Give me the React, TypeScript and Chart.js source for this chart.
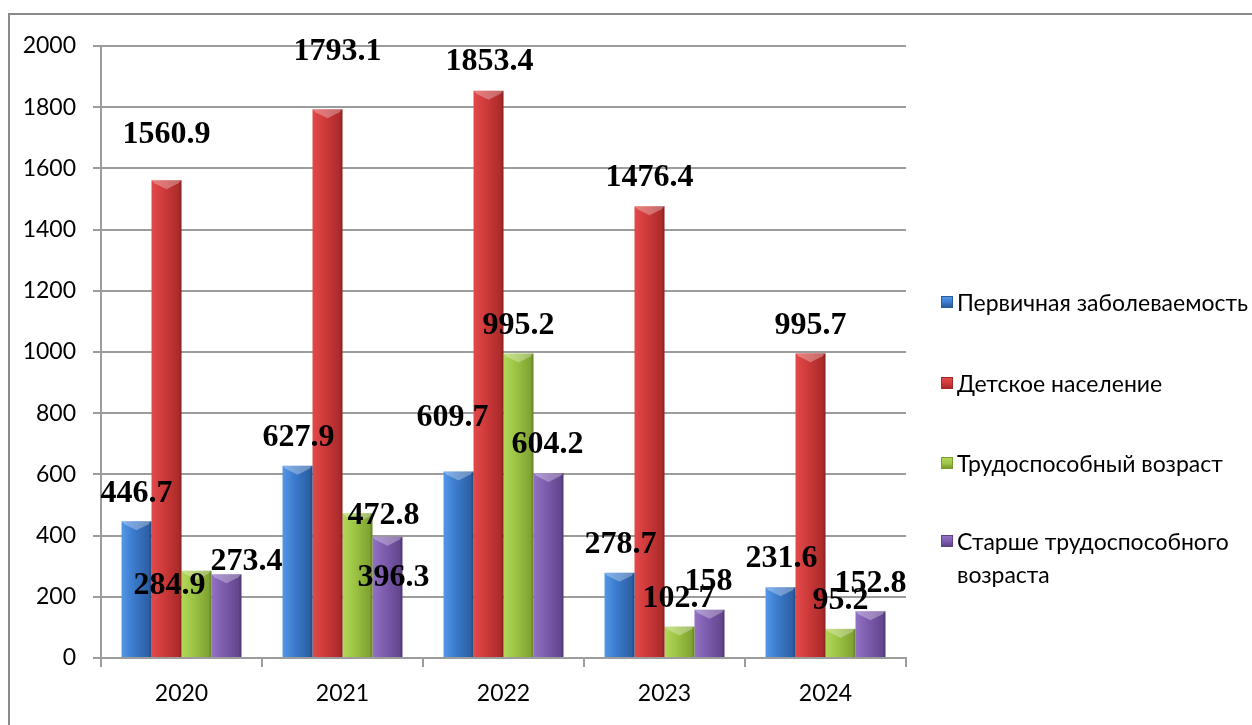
import React, { useEffect, useRef } from 'react';
import { Chart, registerables } from 'chart.js';

Chart.register(...registerables);

// ---------- data ----------
const categories = ['2020', '2021', '2022', '2023', '2024'];
const seriesNames = [
  'Первичная заболеваемость',
  'Детское население',
  'Трудоспособный возраст',
  'Старше трудоспособного возраста',
];
const primaryIncidence = [446.7, 627.9, 609.7, 278.7, 231.6];
const childPopulation = [1560.9, 1793.1, 1853.4, 1476.4, 995.7];
const workingAge = [284.9, 472.8, 995.2, 102.7, 95.2];
const aboveWorkingAge = [273.4, 396.3, 604.2, 158, 152.8];
const yTickValues = [0, 200, 400, 600, 800, 1000, 1200, 1400, 1600, 1800, 2000];

// ---------- styles ----------
const palettes = [
  { light: '#5497e6', mid: '#3b7acc', dark: '#2a5a9c' },
  { light: '#e24a4a', mid: '#cf3a3a', dark: '#a52828' },
  { light: '#b2d85a', mid: '#9dc444', dark: '#7a9c2e' },
  { light: '#9272c2', mid: '#7d5cae', dark: '#5e4288' },
];
// label nudges in px relative to the default spot above each bar [series][category]
const labelNudges: [number, number][][] = [
  [[0, 0], [1, 0], [-6, -26], [1, 0], [1, 0]],
  [[0, -18], [10, -30], [1, -1], [0, 0], [0, 0]],
  [[-27, 43], [26, 30], [0, 0], [-1, 0], [0, 0]],
  [[20, 15], [6, 69], [-1, 0], [-1, 0], [0, 0]],
];
const CATEGORY_PCT = 0.745;
const GRID = '#9c9c9c';
const FRAME = '#8a8a8a';
const SANS = 'Lato, "Open Sans", "DejaVu Sans", sans-serif';

const seriesData = [primaryIncidence, childPopulation, workingAge, aboveWorkingAge];

const framePlugin = {
  id: 'frame',
  beforeDraw(chart: any) {
    const ctx = chart.ctx;
    ctx.save();
    ctx.fillStyle = '#ffffff';
    ctx.fillRect(0, 0, chart.width, chart.height);
    ctx.strokeStyle = FRAME;
    ctx.lineWidth = 2;
    ctx.beginPath();
    ctx.moveTo(9, chart.height);
    ctx.lineTo(9, 14);
    ctx.lineTo(chart.width, 14);
    ctx.stroke();
    ctx.restore();
  },
};

const bevelPlugin = {
  id: 'bevel',
  afterDatasetsDraw(chart: any) {
    const ctx = chart.ctx;
    ctx.save();
    chart.data.datasets.forEach((_ds: any, di: number) => {
      const meta = chart.getDatasetMeta(di);
      meta.data.forEach((el: any) => {
        const { x, y, width } = el.getProps(['x', 'y', 'width'], true);
        const l = x - width / 2;
        const r = x + width / 2;
        ctx.fillStyle = 'rgba(255,255,255,0.3)';
        ctx.beginPath();
        ctx.moveTo(l, y);
        ctx.lineTo(r, y);
        ctx.lineTo(r - 3, y + 3);
        ctx.lineTo(x, y + 9);
        ctx.lineTo(l + 3, y + 3);
        ctx.closePath();
        ctx.fill();
        ctx.fillStyle = 'rgba(0,0,0,0.12)';
        ctx.fillRect(r - 2, y, 2, el.base - y);
      });
    });
    ctx.restore();
  },
};

const labelPlugin = {
  id: 'barLabels',
  afterDatasetsDraw(chart: any) {
    const ctx = chart.ctx;
    ctx.save();
    ctx.font = 'bold 32px "Liberation Serif", "Times New Roman", serif';
    ctx.fillStyle = '#000000';
    ctx.textAlign = 'center';
    ctx.textBaseline = 'middle';
    chart.data.datasets.forEach((ds: any, di: number) => {
      const meta = chart.getDatasetMeta(di);
      meta.data.forEach((el: any, i: number) => {
        const [dx, dy] = labelNudges[di][i];
        ctx.fillText(String(ds.data[i]), el.x + dx, el.y - 28 + dy);
      });
    });
    ctx.restore();
  },
};

function makeGradient(ctx: any, di: number) {
  const pal = palettes[di];
  const chart = ctx.chart;
  const xs = chart.scales && chart.scales.x;
  if (!xs || ctx.type !== 'data' || !xs.width) return pal.mid;
  const center = xs.getPixelForValue(ctx.dataIndex);
  const catW = xs.width / categories.length;
  const groupW = catW * CATEGORY_PCT;
  const bw = groupW / seriesNames.length;
  const left = center - groupW / 2 + di * bw;
  const g = chart.ctx.createLinearGradient(left, 0, left + bw, 0);
  g.addColorStop(0, pal.light);
  g.addColorStop(0.4, pal.mid);
  g.addColorStop(1, pal.dark);
  return g;
}

export default function App() {
  const canvasRef = useRef<HTMLCanvasElement | null>(null);

  useEffect(() => {
    if (!canvasRef.current) return;
    const chart = new Chart(canvasRef.current, {
      type: 'bar',
      data: {
        labels: categories,
        datasets: seriesData.map((d, di) => ({
          label: seriesNames[di],
          data: d,
          backgroundColor: (c: any) => makeGradient(c, di),
          borderWidth: 0,
          categoryPercentage: CATEGORY_PCT,
          barPercentage: 1,
        })),
      },
      options: {
        animation: false,
        responsive: false,
        events: [],
        layout: { padding: { left: 0, right: 346, top: 46, bottom: 0 } },
        plugins: { legend: { display: false }, tooltip: { enabled: false } },
        scales: {
          x: {
            grid: {
              offset: true,
              drawOnChartArea: false,
              drawTicks: true,
              tickLength: 9,
              color: GRID,
              lineWidth: 2,
            },
            border: { display: true, color: GRID, width: 2 },
            ticks: { font: { family: SANS, size: 23 }, color: '#000', padding: 13 },
            afterFit: (s: any) => { s.height = 67; },
          },
          y: {
            min: 0,
            max: 2000,
            afterBuildTicks: (s: any) => { s.ticks = yTickValues.map((v) => ({ value: v })); },
            grid: { color: GRID, lineWidth: 2, tickLength: 8, drawTicks: true },
            border: { display: true, color: GRID, width: 2 },
            ticks: {
              font: { family: SANS, size: 23 },
              color: '#000',
              padding: 17,
              callback: (v: any) => String(v),
            },
            afterFit: (s: any) => { s.width = 101; },
          },
        },
      },
      plugins: [framePlugin, bevelPlugin, labelPlugin],
    } as any);
    return () => chart.destroy();
  }, []);

  const legendCenters = [302, 383, 463, 541];

  return (
    <div style={{ position: 'absolute', left: 0, top: 0, width: 1252, height: 725, overflow: 'hidden', background: '#fff' }}>
      <canvas ref={canvasRef} width={1252} height={725} style={{ display: 'block', width: 1252, height: 725 }} />
      {seriesNames.map((name, i) => {
        const pal = palettes[i];
        return (
          <div key={name}>
            <div
              style={{
                position: 'absolute',
                left: 941,
                top: legendCenters[i] - 6,
                width: 12,
                height: 12,
                boxSizing: 'border-box',
                border: `1px solid ${pal.dark}`,
                background: `linear-gradient(180deg, ${pal.light} 0%, ${pal.mid} 55%, ${pal.dark} 100%)`,
              }}
            />
            <div
              style={{
                position: 'absolute',
                left: 957,
                top: legendCenters[i] - 16.5,
                width: 295,
                fontFamily: SANS,
                fontSize: 23,
                lineHeight: '33px',
                color: '#000',
              }}
            >
              {name}
            </div>
          </div>
        );
      })}
    </div>
  );
}
